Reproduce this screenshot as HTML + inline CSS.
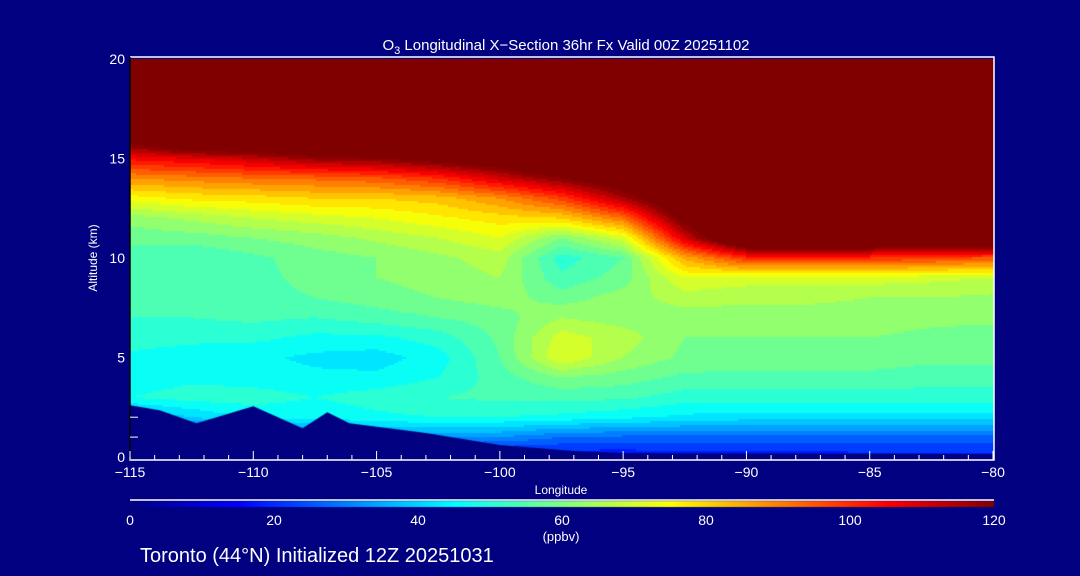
<!DOCTYPE html>
<html><head><meta charset="utf-8">
<style>
html,body{margin:0;padding:0;background:#000080;}
#wrap{position:relative;width:1080px;height:576px;background:#000080;overflow:hidden;font-family:"Liberation Sans","DejaVu Sans",sans-serif;color:#fff;}
canvas{position:absolute;left:0;top:0;}
svg{position:absolute;left:0;top:0;}
</style></head>
<body>
<div id="wrap">
<canvas id="field" width="1080" height="576"></canvas>
<svg id="ov" width="1080" height="576"></svg>
</div>
<script>
// ---- data ----
const lons = [-115,-112.5,-110,-107.5,-105,-102.5,-100,-97.5,-95,-92.5,-90,-87.5,-85,-82.5,-80];
const alts = [0,1,2,3,4,5,6,7,8,9,10,11,12,13,14,15,16,17,18,19,20];
const ozone = [
 [10,10,12,14,15,15,15,16,16,17,17,17,18,18,18],
 [20,20,25,28,33,33,32,28,27,27,27,27,27,27,27],
 [35,40,45,45,47,48,48,47,45,43,42,42,42,42,42],
 [48,50,50,48,50,52,53,53,53,50,50,50,50,50,50],
 [45,47,46,45,45,48,54,60,58,55,55,55,55,54,54],
 [47,46,45,43,42,46,56,72,64,59,58,58,58,57,57],
 [50,49,49,47,47,50,57,70,66,60,60,60,60,59,58],
 [52,52,53,52,54,56,58,64,62,62,62,62,62,61,61],
 [53,54,55,56,58,60,62,58,62,66,65,65,64,64,63],
 [52,53,55,57,60,62,64,53,58,72,70,70,70,69,68],
 [54,52,55,58,60,63,66,50,56,85,100,100,100,98,95],
 [57,58,60,62,65,68,72,60,70,110,140,140,140,140,140],
 [62,65,68,70,72,75,78,80,92,125,140,140,140,140,140],
 [74,77,78,80,80,82,88,98,115,135,140,140,140,140,140],
 [88,90,92,93,95,100,110,120,130,140,140,140,140,140,140],
 [105,108,112,118,120,125,130,140,140,140,140,140,140,140,140],
 [125,140,140,140,140,140,140,140,140,140,140,140,140,140,140],
 [140,140,140,140,140,140,140,140,140,140,140,140,140,140,140],
 [140,140,140,140,140,140,140,140,140,140,140,140,140,140,140],
 [140,140,140,140,140,140,140,140,140,140,140,140,140,140,140],
 [140,140,140,140,140,140,140,140,140,140,140,140,140,140,140]
];
const terrainLon = [-115,-113.8,-112.3,-110,-108,-107,-106.1,-103,-100,-97,-95,-80];
const terrainAlt = [2.6,2.35,1.7,2.55,1.45,2.25,1.7,1.2,0.6,0.3,0.2,0.15];
const xTicks = [-115,-110,-105,-100,-95,-90,-85,-80];
const yTicks = [0,5,10,15,20];
const cbTicks = [0,20,40,60,80,100,120];

// ---- scales ----
const X0=130,X1=993,Y0=457,Y1=59;
const sx = lon => X0+(lon+115)/35*(X1-X0);
const sy = a => Y0-a/20*(Y0-Y1);
const cbx = v => 130+v/120*(994-130);
function jet(v){
  let t=Math.max(0,Math.min(1,v/120));
  const c=x=>Math.round(255*Math.max(0,Math.min(1,x)));
  return [c(1.5-Math.abs(4*t-3)),c(1.5-Math.abs(4*t-2)),c(1.5-Math.abs(4*t-1))];
}
function interp(xs,x){
  let i=0; while(i<xs.length-2 && x>xs[i+1]) i++;
  return [i,(x-xs[i])/(xs[i+1]-xs[i])];
}
function val(lon,alt){
  const [i,fx]=interp(lons,lon), [j,fy]=interp(alts,alt);
  const a=ozone[j][i],b=ozone[j][i+1],c=ozone[j+1][i],d=ozone[j+1][i+1];
  return (a*(1-fx)+b*fx)*(1-fy)+(c*(1-fx)+d*fx)*fy;
}
// ---- field ----
const ctx=document.getElementById('field').getContext('2d');
const B=2;
for(let py=Y1;py<Y0;py+=B){
  for(let px=X0;px<X1;px+=B){
    const lon=-115+(px+B/2-X0)/(X1-X0)*35, alt=(Y0-(py+B/2))/(Y0-Y1)*20;
    let v=val(lon,alt); v=Math.floor(v/4)*4+2;
    const [r,g,b]=jet(v);
    ctx.fillStyle=`rgb(${r},${g},${b})`;
    ctx.fillRect(px,py,B,B);
  }
}
// terrain
ctx.fillStyle='#000080';
ctx.beginPath();
ctx.moveTo(sx(terrainLon[0]),Y0+1);
for(let k=0;k<terrainLon.length;k++) ctx.lineTo(sx(terrainLon[k]),sy(terrainAlt[k]));
ctx.lineTo(sx(terrainLon[terrainLon.length-1]),Y0+1);
ctx.closePath(); ctx.fill();
// colorbar
for(let px=130;px<994;px++){
  const [r,g,b]=jet((px-130)/(994-130)*120);
  ctx.fillStyle=`rgb(${r},${g},${b})`;
  ctx.fillRect(px,501,1,6);
}
// ---- overlay ----
const NS='http://www.w3.org/2000/svg';
const ov=document.getElementById('ov');
function el(tag,attrs,parent){const e=document.createElementNS(NS,tag);for(const k in attrs)e.setAttribute(k,attrs[k]);(parent||ov).appendChild(e);return e;}
function txt(s,x,y,size,anchor,name){
  const t=el('text',{x:x,y:y,'font-size':size,fill:'#fff','text-anchor':anchor||'middle','font-family':'Liberation Sans, DejaVu Sans, sans-serif'});
  t.textContent=s;
  
  
  return t;
}
const fr=el('path',{d:`M${X0},457 L${X0},460 L${X1+1},460 L${X1+1},57 L${X0},57`,stroke:'#fff','stroke-width':1.5,fill:'none'});


const la=el('line',{x1:X0,y1:57,x2:X0,y2:460,stroke:'#000','stroke-width':1.5});


for(let l=-115;l<=-80;l++){
  const major=xTicks.includes(l);
  const t=el('line',{x1:sx(l),x2:sx(l),y1:460,y2:major?451:455,stroke:'#fff','stroke-width':1});
  
  
}
xTicks.forEach(l=>{ txt('\u2212'+Math.abs(l),sx(l),477,14,'middle','x-tick-label'); });
yTicks.forEach(a=>{ txt(String(a),125,sy(a)+5,14,'end','y-tick-label'); });
for(let a=1;a<=2;a++){
  const t=el('line',{x1:X0,x2:X0+8,y1:sy(a),y2:sy(a),stroke:'#fff','stroke-width':1});
  
  
}
txt('Longitude',561,494,12,'middle','x-axis-title');
const yt=txt('Altitude (km)',0,0,12,'middle','y-axis-title');
yt.setAttribute('transform','translate(97,258) rotate(-90)');
const ti=el('text',{x:566,y:50,'font-size':15,fill:'#fff','text-anchor':'middle','font-family':'Liberation Sans, DejaVu Sans, sans-serif'});


ti.innerHTML='O<tspan font-size="11" dy="4">3</tspan><tspan dy="-4"> Longitudinal X\u2212Section 36hr  Fx Valid 00Z 20251102</tspan>';
const cl=el('line',{x1:130,x2:994,y1:500,y2:500,stroke:'#fff','stroke-width':1.5});


cbTicks.forEach(v=>{ txt(String(v),cbx(v),525,14,'middle','colorbar-tick-label'); });
txt('(ppbv)',561,541,13,'middle','colorbar-unit-label');
txt('Toronto (44\u00b0N) Initialized 12Z 20251031',140,562,20,'start','footer-init-label');
</script>
</body></html>
